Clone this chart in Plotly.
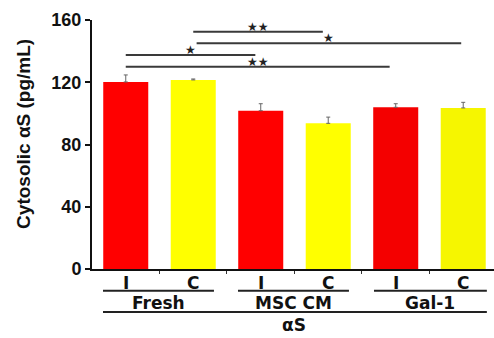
import plotly.graph_objects as go

# Data
conditions = ["I", "C", "I", "C", "I", "C"]
groups = ["Fresh", "MSC CM", "Gal-1"]
values = [120.2, 121.5, 101.7, 93.6, 103.9, 103.5]
errors = [4.5, 0.6, 4.5, 4.0, 2.3, 3.6]
bar_colors = ["#FF0000", "#FFFF00", "#FF0000", "#FFFF00", "#F40000", "#F6F600"]
y_ticks = [0, 40, 80, 120, 160]
# significance brackets: (start index, end index, y value, label)
sig_start = [1.0, 1.05, 0.0, 0.0]
sig_end = [2.92, 4.97, 1.92, 3.91]
sig_y = [152.5, 145.0, 137.5, 130.0]
sig_label = ["★★", "★", "★", "★★"]

FONT = "Liberation Sans, Arial, sans-serif"
WFONT = "DejaVu Sans, Verdana, sans-serif"

x = list(range(len(values)))
fig = go.Figure()
fig.add_trace(go.Bar(
    x=x, y=values, width=0.667,
    marker=dict(color=bar_colors, line=dict(width=0)),
    error_y=dict(type="data", array=errors, arrayminus=[0] * len(errors),
                 symmetric=False, color="#666666", thickness=1, width=2),
    showlegend=False,
))

shapes = []
annotations = []
for s, e, yv, lab in zip(sig_start, sig_end, sig_y, sig_label):
    shapes.append(dict(type="line", xref="x", yref="y", x0=s, x1=e, y0=yv, y1=yv,
                       line=dict(color="#3a3a3a", width=2)))
    annotations.append(dict(x=(s + e) / 2, y=yv, xref="x", yref="y", text=lab,
                            showarrow=False, yanchor="bottom", yshift=-4,
                            font=dict(family=WFONT, size=12, color="#222222")))

# condition labels
for i, c in enumerate(conditions):
    annotations.append(dict(x=i, y=-0.056, xref="x", yref="paper", text="<b>%s</b>" % c,
                            showarrow=False, yanchor="middle",
                            font=dict(family=WFONT, size=17, color="#111111")))
# group underlines and labels
under = [(-0.337, 1.307), (1.663, 3.307), (3.678, 5.35)]
for (a, b), g in zip(under, groups):
    shapes.append(dict(type="line", xref="x", yref="paper", x0=a, x1=b, y0=-0.087, y1=-0.087,
                       line=dict(color="#222222", width=2)))
    annotations.append(dict(x=(a + b) / 2, y=-0.137, xref="x", yref="paper", text="<b>%s</b>" % g,
                            showarrow=False, yanchor="middle",
                            font=dict(family=WFONT, size=17, color="#111111")))
shapes.append(dict(type="line", xref="x", yref="paper", x0=-0.337, x1=5.35, y0=-0.173, y1=-0.173,
                   line=dict(color="#222222", width=2)))
annotations.append(dict(x=2.5, y=-0.225, xref="x", yref="paper", text="<b>αS</b>",
                        showarrow=False, yanchor="middle",
                        font=dict(family=WFONT, size=17, color="#111111")))
# y-axis title
annotations.append(dict(x=-0.172, y=0.542, xref="paper", yref="paper",
                        text="<b>Cytosolic αS (pg/mL)</b>", textangle=-90,
                        showarrow=False, xanchor="center", yanchor="middle",
                        font=dict(family=FONT, size=19, color="#111111")))

fig.update_layout(
    width=494, height=338,
    margin=dict(l=92, r=0, t=20, b=69),
    paper_bgcolor="white", plot_bgcolor="white",
    shapes=shapes, annotations=annotations,
    xaxis=dict(range=[-0.5, 5.456], tickvals=[0.5, 1.5, 2.5, 3.5, 4.5], ticktext=[""] * 5,
               ticks="outside", ticklen=3, tickwidth=1, tickcolor="#333",
               showline=True, linecolor="#111111", linewidth=2, showgrid=False, zeroline=False),
    yaxis=dict(range=[0, 160], tickvals=y_ticks,
               ticktext=["<b>%d</b>" % v for v in y_ticks],
               ticks="outside", ticklen=5, tickwidth=2, tickcolor="#111111",
               showline=True, linecolor="#111111", linewidth=2, showgrid=False, zeroline=False,
               tickfont=dict(family=FONT, size=18, color="#111111")),
)

fig.write_html("out.html", config={"displayModeBar": False},
               post_script="document.body.style.margin='0';document.body.style.overflow='hidden';")
